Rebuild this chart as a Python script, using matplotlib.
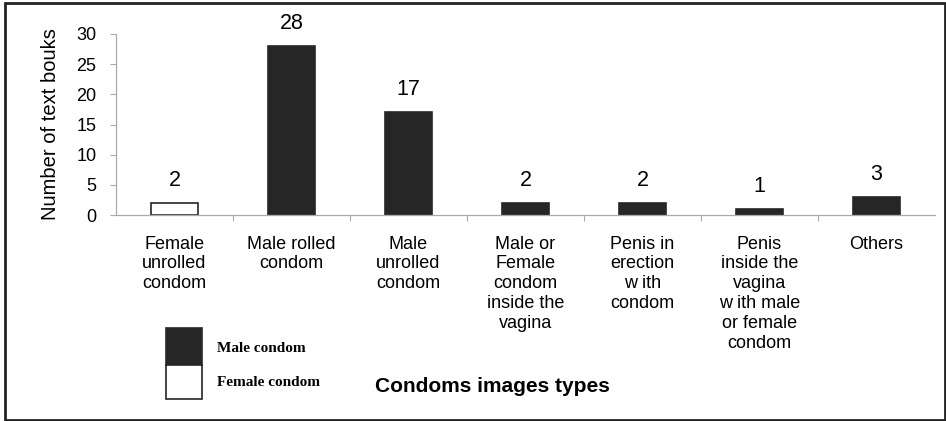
import matplotlib.pyplot as plt
from matplotlib.patches import Rectangle

# categorias y valores
categorias = [
    "Female\nunrolled\ncondom",
    "Male rolled\ncondom",
    "Male\nunrolled\ncondom",
    "Male or\nFemale\ncondom\ninside the\nvagina",
    "Penis in\nerection\nw ith\ncondom",
    "Penis\ninside the\nvagina\nw ith male\nor female\ncondom",
    "Others",
]
valores = [2, 28, 17, 2, 2, 1, 3]
tipo = ["female", "male", "male", "male", "male", "male", "male"]
yticks = [0, 5, 10, 15, 20, 25, 30]

W, H = 946, 421
fig = plt.figure(figsize=(W / 100, H / 100), dpi=100)
fig.patch.set_facecolor("white")

# marco exterior
fig.add_artist(Rectangle((5 / W, 1 - 420 / H), 940 / W, 417 / H,
                         transform=fig.transFigure, fill=False,
                         edgecolor="#222222", linewidth=2))

ax = fig.add_axes([116 / W, 1 - 215 / H, 819 / W, 181 / H])
x = list(range(len(categorias)))
colores = ["white" if t == "female" else "#262626" for t in tipo]
ax.bar(x, valores, width=0.41, color=colores, edgecolor="#262626", linewidth=1.2)

for xi, v in zip(x, valores):
    ax.text(xi, v + 2.0, str(v), ha="center", va="bottom",
            fontsize=15.5, family="Liberation Sans")

ax.set_xlim(-0.5, len(categorias) - 0.5)
ax.set_ylim(0, 30)
ax.set_yticks(yticks)
ax.set_yticklabels([str(t) for t in yticks], family="Liberation Sans", fontsize=13)
ax.set_xticks([i + 0.5 for i in x[:-1]])
ax.set_xticklabels([])
ax.tick_params(axis="both", color="#aaaaaa", length=4, width=0.8)
ax.tick_params(axis="y", pad=10)

for s in ["top", "right"]:
    ax.spines[s].set_visible(False)
for s in ["left", "bottom"]:
    ax.spines[s].set_color("#aaaaaa")
    ax.spines[s].set_linewidth(0.9)

for xi, lab in zip(x, categorias):
    ax.text(xi, -3.4, lab, ha="center", va="top", fontsize=13,
            family="Liberation Sans", linespacing=1.22)

ax.set_ylabel("Number of text bouks", family="Liberation Sans", fontsize=14.5, labelpad=12)

fig.text(492 / W, 1 - 386 / H, "Condoms images types", ha="center", va="center",
         fontsize=15, fontweight="bold", family="Liberation Sans")

# leyenda manual
fig.add_artist(Rectangle((166 / W, 1 - 365 / H), 36 / W, 37 / H,
                         transform=fig.transFigure, facecolor="#262626",
                         edgecolor="#262626", linewidth=1.2))
fig.add_artist(Rectangle((166 / W, 1 - 399 / H), 36 / W, 34 / H,
                         transform=fig.transFigure, facecolor="white",
                         edgecolor="#262626", linewidth=1.2))
fig.text(217 / W, 1 - 348 / H, "Male condom", ha="left", va="center",
         fontsize=11, fontweight="bold", family="Liberation Serif")
fig.text(217 / W, 1 - 383 / H, "Female condom", ha="left", va="center",
         fontsize=11, fontweight="bold", family="Liberation Serif")

fig.savefig("out.png", dpi=100)
